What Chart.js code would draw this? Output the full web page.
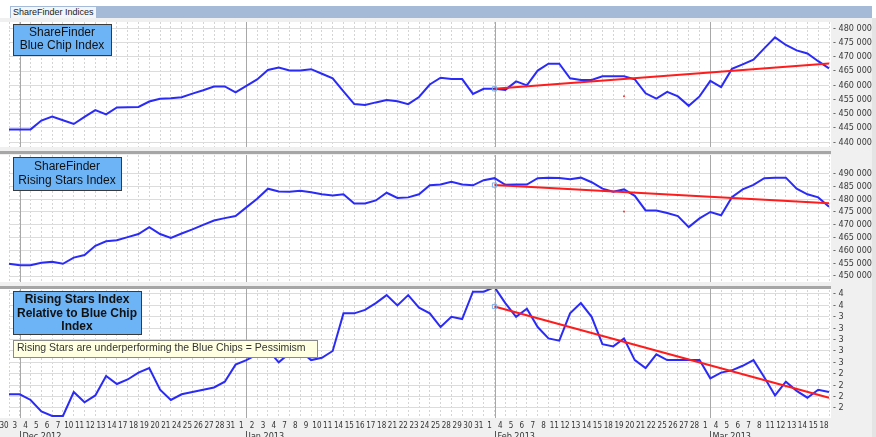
<!DOCTYPE html>
<html>
<head>
<meta charset="utf-8">
<title>ShareFinder Indices</title>
<script src="https://cdn.jsdelivr.net/npm/chart.js@4.4.1/dist/chart.umd.min.js"></script>
<style>
  html, body { margin: 0; padding: 0; background: #fff; }
  #page { position: relative; width: 876px; height: 437px; overflow: hidden; }
  .panel { position: absolute; left: 0; }
  #titlebar { position: absolute; left: 10px; top: 6px; width: 862px; height: 13px; background: #a4bad6; }
  #titlebar span {
    position: absolute; left: 1px; top: 1px; height: 11px; line-height: 11px; padding: 0 2px;
    background: #f2f5fa; color: #222; font: 9px 'Liberation Sans', Arial, sans-serif;
  }
</style>
</head>
<body>
<div id="page">
  <div id="titlebar"><span>ShareFinder Indices</span></div>
  <canvas id="blue-chart" class="panel" width="876" height="133" style="top:18px"></canvas>
  <canvas id="rising-chart" class="panel" width="876" height="135" style="top:151px"></canvas>
  <canvas id="relative-chart" class="panel" width="876" height="151" style="top:286px"></canvas>
</div>
<script>
/*global Chart */
const dayLabels = [
  '30', '3', '4', '5', '6', '7', '10', '11', '12', '13', '14', '17', '18', '19', '20', '21', '24', '25', '26', '27', '28', '31',
  '1', '2', '3', '4', '7', '8', '9', '10', '11', '14', '15', '16', '17', '18', '21', '22', '23', '24', '25', '28', '29', '30', '31',
  '1', '4', '5', '6', '7', '8', '11', '12', '13', '14', '15', '18', '19', '20', '21', '22', '25', '26', '27', '28',
  '1', '4', '5', '6', '7', '8', '11', '12', '13', '14', '15', '18'
];
const monthNames = ['Dec 2012', 'Jan 2013', 'Feb 2013', 'Mar 2013'];
const monthStarts = [1, 22, 45, 65];

const blueChip = [
  444500, 444500, 444500, 447600, 449000, 447700, 446400, 448900, 451300, 449800,
  452200, 452300, 452400, 454300, 455300, 455500, 455800, 457100, 458300, 459600,
  459600, 457500, 459800, 462100, 465400, 466300, 465200, 465200, 465700, 464100,
  462500, 457900, 453400, 453100, 454000, 454800, 454400, 453400, 455900, 460300,
  462700, 462200, 462200, 457000, 458800, 458800, 458400, 461400, 460000, 465200,
  467600, 467600, 462500, 461900, 461900, 463200, 463200, 463200, 462100, 457200,
  455300, 457700, 456100, 452800, 456100, 461600, 459400, 465800, 467400, 469000,
  473000, 476900, 474200, 472300, 471200, 468500, 466000
];
const risingStars = [
  454800, 454200, 454200, 455200, 455600, 454800, 457200, 458200, 461800, 463600,
  464000, 465200, 466400, 469100, 466400, 464900, 466600, 468200, 470000, 471700,
  472600, 473400, 476800, 480200, 484100, 483000, 482900, 483300, 482700, 481900,
  481400, 481900, 478300, 478300, 479500, 482500, 480500, 480700, 481900, 485400,
  485700, 486800, 485700, 485400, 487400, 488200, 485600, 485700, 485700, 488200,
  488400, 488300, 487800, 488400, 486600, 484100, 482900, 483800, 481300, 475600,
  475600, 474600, 473400, 469100, 472500, 475000, 473700, 480800, 483800, 485600,
  488200, 488400, 488400, 484100, 481900, 480700, 477000
];
const relativeIndex = [
  2.04, 2.04, 1.94, 1.74, 1.66, 1.66, 2.08, 1.90, 2.02, 2.36,
  2.22, 2.30, 2.42, 2.50, 2.12, 1.94, 2.04, 2.08, 2.12, 2.16,
  2.26, 2.56, 2.64, 2.74, 2.82, 2.60, 2.76, 2.80, 2.64, 2.68,
  2.80, 3.46, 3.46, 3.52, 3.64, 3.78, 3.60, 3.78, 3.56, 3.46,
  3.22, 3.40, 3.36, 3.84, 3.84, 3.92, 3.64, 3.40, 3.54, 3.22,
  3.02, 2.98, 3.46, 3.64, 3.40, 2.92, 2.88, 3.02, 2.64, 2.50,
  2.74, 2.64, 2.64, 2.64, 2.64, 2.32, 2.42, 2.46, 2.54, 2.64,
  2.34, 2.02, 2.26, 2.10, 1.98, 2.12, 2.08
];

const trendPoints = [45, 76];
const blueTrend = [458800, 467700];
const risingTrend = [485500, 478400];
const relativeTrend = [3.58, 1.98];
const dotPoint = 57;
const blueDot = 456200;
const risingDot = 475200;

const blueTicks = [440000, 445000, 450000, 455000, 460000, 465000, 470000, 475000, 480000];
const risingTicks = [450000, 455000, 460000, 465000, 470000, 475000, 480000, 485000, 490000];
const relativeTicks = [1.8, 2.0, 2.2, 2.4, 2.6, 2.8, 3.0, 3.2, 3.4, 3.6, 3.8];

const smallFont = "'Liberation Sans Narrow', 'DejaVu Sans Condensed', 'Liberation Sans', Arial, sans-serif";
const boxFont = "'Liberation Sans', Arial, sans-serif";

function sparse(indexes, values) {
  const out = dayLabels.map(function () { return null; });
  indexes.forEach(function (i, n) { out[i] = values[n]; });
  return out;
}

function thousands(value) {
  return '- ' + String(Math.round(value)).replace(/\B(?=(\d{3})+(?!\d))/g, ' ');
}

function wholeNumber(value) {
  return '- ' + Math.round(value);
}

const panelDecor = {
  id: 'panelDecor',
  beforeDraw(chart) {
    const {ctx, chartArea, width, height} = chart;
    ctx.save();
    ctx.fillStyle = '#f0f0f0';
    ctx.fillRect(0, 0, width, height);
    ctx.fillStyle = '#e4e4e4';
    ctx.fillRect(872, 0, width - 872, height);
    ctx.fillStyle = '#ffffff';
    ctx.fillRect(0, chartArea.top, chartArea.right + 2, chartArea.bottom - chartArea.top);
    ctx.restore();
  },
  beforeDatasetsDraw(chart) {
    const {ctx, chartArea} = chart;
    const x = chart.scales.x;
    ctx.save();
    ctx.strokeStyle = '#a8a8a8';
    ctx.lineWidth = 1;
    monthStarts.forEach(function (i) {
      const px = Math.round(x.getPixelForValue(i)) + 0.5;
      ctx.beginPath();
      ctx.moveTo(px, chartArea.top);
      ctx.lineTo(px, chartArea.bottom);
      ctx.stroke();
    });
    ctx.restore();
  },
  afterDraw(chart, args, opts) {
    const {ctx, chartArea} = chart;
    ctx.save();
    (opts.items || []).forEach(function (box) {
      ctx.fillStyle = box.fill;
      ctx.fillRect(box.x, box.y, box.w, box.h);
      ctx.strokeStyle = box.stroke;
      ctx.lineWidth = 1;
      ctx.strokeRect(box.x + 0.5, box.y + 0.5, box.w, box.h);
      ctx.fillStyle = box.color;
      ctx.font = box.font;
      ctx.textBaseline = 'middle';
      ctx.textAlign = box.align;
      box.lines.forEach(function (line, n) {
        const tx = box.align === 'center' ? box.x + box.w / 2 : box.x + 4;
        ctx.fillText(line, tx, box.lineY[n]);
      });
    });
    if (opts.separator) {
      ctx.fillStyle = '#a6a6a6';
      ctx.fillRect(0, 0, chartArea.right + 2, 3);
    }
    if (opts.months) {
      const x = chart.scales.x;
      ctx.fillStyle = '#333';
      ctx.strokeStyle = '#555';
      ctx.font = '9px ' + smallFont;
      ctx.textAlign = 'left';
      ctx.textBaseline = 'top';
      monthStarts.forEach(function (i, n) {
        const px = Math.round(x.getPixelForValue(i)) + 0.5;
        ctx.beginPath();
        ctx.moveTo(px, chartArea.bottom + 13);
        ctx.lineTo(px, chartArea.bottom + 19);
        ctx.stroke();
        ctx.fillText(monthNames[n], px + 2, chartArea.bottom + 14);
      });
    }
    ctx.restore();
  }
};

function makePanel(canvasId, cfg) {
  const datasets = [
    {
      data: sparse(trendPoints, cfg.trend),
      borderColor: '#ff1c1c',
      borderWidth: 2,
      spanGaps: true,
      pointStyle: 'rect',
      pointRadius: function (ctx) { return ctx.dataIndex === trendPoints[0] ? 3 : 0; },
      pointBorderColor: '#7eaee8',
      pointBackgroundColor: 'rgba(0,0,0,0)',
      pointBorderWidth: 1,
    },
    {
      data: cfg.series,
      borderColor: '#2b2bf8',
      borderWidth: 2,
      pointRadius: 0,
      tension: 0,
    },
  ];
  if (cfg.dot !== null) {
    datasets.push({
      data: sparse([dotPoint], [cfg.dot]),
      showLine: false,
      pointRadius: 1,
      pointBorderWidth: 0,
      pointBackgroundColor: '#ff3030',
    });
  }
  return new Chart(document.getElementById(canvasId), {
    type: 'line',
    data: {
      labels: dayLabels,
      datasets: datasets
    },
    plugins: [panelDecor],
    options: {
      responsive: false,
      animation: false,
      devicePixelRatio: 1,
      events: [],
      layout: {
        padding: {left: 9, right: 0, top: 0, bottom: 0}
      },
      plugins: {
        legend: {display: false},
        tooltip: {enabled: false},
        panelDecor: {
          items: cfg.boxes,
          separator: cfg.separator,
          months: cfg.showX,
        },
      },
      scales: {
        x: {
          type: 'category',
          offset: false,
          grid: {
            color: '#d4d4d4',
            lineWidth: 1,
            drawTicks: false,
          },
          border: {
            display: false,
            dash: [2, 2],
          },
          ticks: {
            display: cfg.showX,
            autoSkip: false,
            maxRotation: 0,
            minRotation: 0,
            labelOffset: -5,
            padding: 3,
            color: '#333',
            font: {family: smallFont, size: 8},
          },
          afterFit: function (scale) {
            scale.height = cfg.showX ? 19 : 0;
            scale.paddingLeft = 0;
            scale.paddingRight = 0;
          },
        },
        y: {
          position: 'right',
          min: cfg.min,
          max: cfg.max,
          grid: {
            color: '#dcdcdc',
            drawTicks: false,
          },
          border: {
            display: false,
          },
          afterBuildTicks: function (scale) {
            scale.ticks = cfg.ticks.map(function (v) { return {value: v}; });
          },
          ticks: {
            callback: cfg.format,
            autoSkip: false,
            padding: 4,
            color: '#383838',
            font: {family: smallFont, size: 9},
          },
          afterFit: function (scale) {
            scale.width = 47;
            scale.paddingTop = 0;
            scale.paddingBottom = 0;
          },
        },
      }
    }
  });
}

makePanel('blue-chart', {
  series: blueChip,
  trend: blueTrend,
  dot: blueDot,
  min: 438300,
  max: 482300,
  ticks: blueTicks,
  format: thousands,
  showX: false,
  separator: false,
  boxes: [
    {x: 13, y: 6, w: 98, h: 31, fill: '#6db4f7', stroke: '#3a3a3a', color: '#111', font: '12px ' + boxFont,
      align: 'center', lines: ['ShareFinder', 'Blue Chip Index'], lineY: [15, 28]},
  ],
});

makePanel('rising-chart', {
  series: risingStars,
  trend: risingTrend,
  dot: risingDot,
  min: 447690,
  max: 497230,
  ticks: risingTicks,
  format: thousands,
  showX: false,
  separator: true,
  boxes: [
    {x: 13, y: 6, w: 108, h: 33, fill: '#6db4f7', stroke: '#3a3a3a', color: '#111', font: '12px ' + boxFont,
      align: 'center', lines: ['ShareFinder', 'Rising Stars Index'], lineY: [16, 30]},
  ],
});

makePanel('relative-chart', {
  series: relativeIndex,
  trend: relativeTrend,
  dot: null,
  min: 1.624,
  max: 3.94,
  ticks: relativeTicks,
  format: wholeNumber,
  showX: true,
  separator: true,
  boxes: [
    {x: 13, y: 5, w: 128, h: 43, fill: '#6db4f7', stroke: '#3a3a3a', color: '#111', font: 'bold 12px ' + boxFont,
      align: 'center', lines: ['Rising Stars Index', 'Relative to Blue Chip', 'Index'], lineY: [14, 27.5, 41]},
    {x: 13, y: 54, w: 304, h: 17, fill: '#ffffe1', stroke: '#8a8a8a', color: '#333', font: '10.5px ' + boxFont,
      align: 'left', lines: ['Rising Stars are underperforming the Blue Chips = Pessimism'], lineY: [62.5]},
  ],
});
</script>
</body>
</html>
